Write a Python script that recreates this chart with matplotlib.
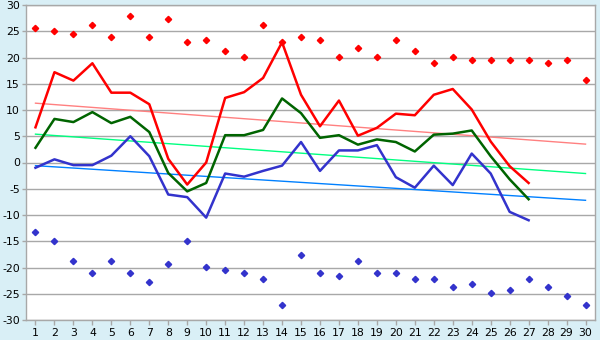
import numpy as np
import matplotlib
matplotlib.use("Agg")
import matplotlib.pyplot as plt

plt.rcParams["axes.unicode_minus"] = False

days = list(range(1, 31))
line_days = list(range(1, 28))

# red line (max)
red_line = [6.7, 17.2, 15.6, 18.9, 13.3, 13.3, 11.1, 0.7, -4.2, 0.0,
            12.3, 13.4, 16.1, 22.9, 12.9, 6.9, 11.8, 5.1, 6.6, 9.3,
            9.0, 12.9, 14.0, 10.1, 4.0, -0.7, -3.9]
# green line (mean)
green_line = [2.8, 8.3, 7.7, 9.6, 7.5, 8.7, 5.8, -2.0, -5.5, -3.9,
              5.2, 5.2, 6.2, 12.2, 9.4, 4.7, 5.2, 3.4, 4.4, 3.9,
              2.1, 5.3, 5.5, 6.1, 1.2, -3.2, -7.0]
# blue line (min)
blue_line = [-1.0, 0.6, -0.5, -0.5, 1.3, 5.0, 1.2, -6.1, -6.6, -10.5,
             -2.1, -2.7, -1.6, -0.6, 3.9, -1.6, 2.3, 2.3, 3.3, -2.8,
             -4.8, -0.6, -4.3, 1.7, -2.1, -9.4, -11.0]
# record max (red points)
rec_max = [25.6, 25.1, 24.5, 26.2, 23.9, 27.9, 23.9, 27.4, 23.0, 23.4,
           21.3, 20.1, 26.2, 23.0, 23.9, 23.4, 20.1, 21.8, 20.1, 23.4,
           21.3, 19.0, 20.1, 19.6, 19.6, 19.6, 19.6, 19.0, 19.6, 15.7]
# record min (blue points)
rec_min = [-13.2, -14.9, -18.7, -21.0, -18.7, -21.0, -22.7, -19.3, -14.9, -19.9,
           -20.4, -21.0, -22.2, -27.1, -17.6, -21.0, -21.6, -18.7, -21.0, -21.0,
           -22.2, -22.2, -23.7, -23.1, -24.8, -24.2, -22.2, -23.7, -25.4, -27.1]

# climate normals (straight lines from day 1 to day 30)
normal_days = [1, 30]
normal_max = [11.3, 3.5]
normal_mean = [5.4, -2.1]
normal_min = [-0.6, -7.2]

y_ticks = list(range(-30, 31, 5))

bg = "#d9eff6"
fig = plt.figure(figsize=(6, 3.4), dpi=100, facecolor=bg)
ax = fig.add_axes([26/600, 1-320/340, (595-26)/600, (320-5)/340])
ax.set_facecolor("white")

ax.plot(normal_days, normal_max, color="#ff8080", lw=1.0, zorder=2)
ax.plot(normal_days, normal_mean, color="#00ff80", lw=1.0, zorder=2)
ax.plot(normal_days, normal_min, color="#0080ff", lw=1.0, zorder=2)

ax.plot(line_days, red_line, color="#ff0000", lw=1.8, zorder=3)
ax.plot(line_days, green_line, color="#006400", lw=1.8, zorder=3)
ax.plot(line_days, blue_line, color="#3333cc", lw=1.8, zorder=3)

ax.plot(days, rec_max, ls="none", marker="D", ms=3.2, color="#ff0000", zorder=4)
ax.plot(days, rec_min, ls="none", marker="D", ms=3.2, color="#3333cc", zorder=4)

ax.set_xlim(0.5, 30.5)
ax.set_ylim(-30, 30)
ax.set_xticks(days)
ax.set_yticks(y_ticks)
ax.yaxis.grid(True, color="#a8a8a8", lw=1.0)
ax.set_axisbelow(True)
for s in ax.spines.values():
    s.set_color("#a8a8a8")
    s.set_linewidth(1.0)
ax.tick_params(axis="both", colors="#a8a8a8", labelcolor="black", labelsize=7.8, width=1)
ax.tick_params(axis="x", length=3.5, pad=2)
ax.tick_params(axis="y", length=3, pad=1.5)

fig.savefig("out.png", dpi=100, facecolor=bg)
